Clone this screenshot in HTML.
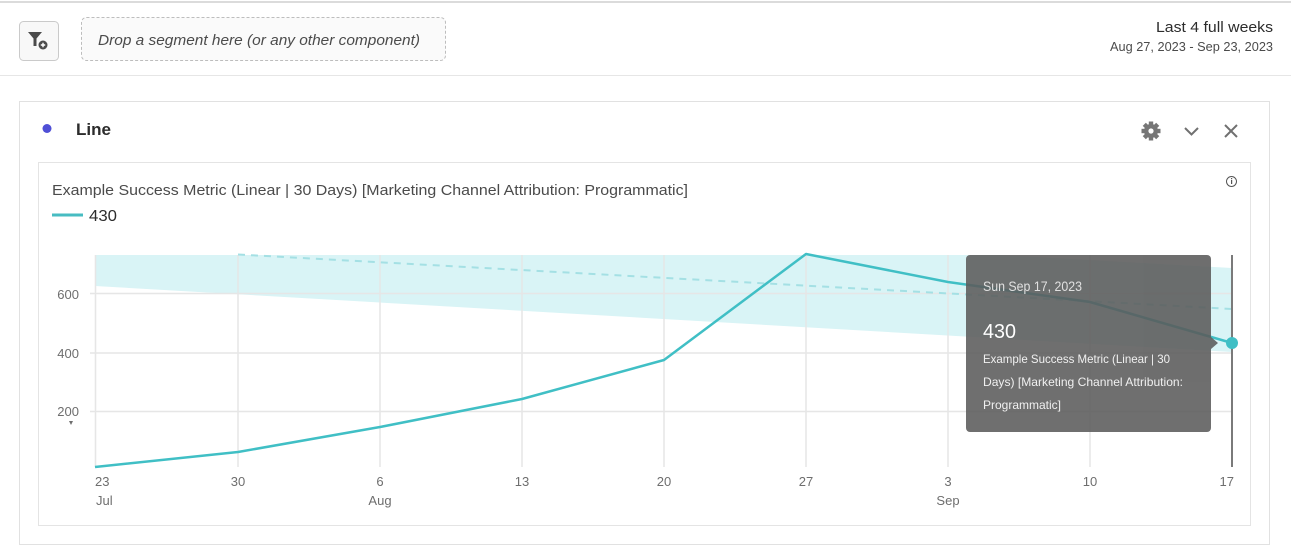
<!DOCTYPE html>
<html><head><meta charset="utf-8"><style>
html,body{margin:0;padding:0;background:#fff;}
svg{display:block;}
text{font-family:"Liberation Sans",sans-serif;}
</style></head><body>
<svg width="1291" height="547" viewBox="0 0 1291 547" xmlns="http://www.w3.org/2000/svg">
<rect width="1291" height="547" fill="#fff"/>
<line x1="0" y1="2" x2="1291" y2="2" stroke="#cfcfcf" stroke-width="1.5"/>
<line x1="0" y1="75.5" x2="1291" y2="75.5" stroke="#e6e6e6" stroke-width="1"/>

<!-- filter button -->
<rect x="19.5" y="21.5" width="39" height="39" rx="4" fill="#f8f8f8" stroke="#cacaca"/>
<path d="M28 32 L42 32 L36.5 38.5 L36.5 46 L33.5 46 L33.5 38.5 Z" fill="#4b4b4b"/>
<circle cx="43" cy="45" r="4.5" fill="#4b4b4b"/>
<path d="M40.8 45 H45.2 M43 42.8 V47.2" stroke="#fff" stroke-width="1.4"/>

<!-- drop zone -->
<rect x="81.5" y="17.5" width="364" height="43" rx="5" fill="#fafafa" stroke="#bdbdbd" stroke-dasharray="3,2"/>
<text x="98" y="45" font-size="15" font-style="italic" fill="#4b4b4b" textLength="322" lengthAdjust="spacingAndGlyphs">Drop a segment here (or any other component)</text>

<!-- date range -->
<text x="1273" y="32" font-size="15" fill="#2c2c2c" text-anchor="end" textLength="117" lengthAdjust="spacingAndGlyphs">Last 4 full weeks</text>
<text x="1273" y="51" font-size="13" fill="#4b4b4b" text-anchor="end" textLength="163" lengthAdjust="spacingAndGlyphs">Aug 27, 2023 - Sep 23, 2023</text>

<!-- outer panel -->
<rect x="19.5" y="101.5" width="1250" height="443" fill="#fff" stroke="#e1e1e1"/>
<circle cx="47" cy="128.5" r="4.5" fill="#4f4fd6"/>
<text x="76" y="135" font-size="17" font-weight="bold" fill="#2c2c2c" textLength="35" lengthAdjust="spacingAndGlyphs">Line</text>

<!-- gear -->
<g transform="translate(1151,131)" fill="#767676">
<circle r="7"/>
<g>
<rect x="-2.2" y="-9.5" width="4.4" height="19"/>
<rect x="-2.2" y="-9.5" width="4.4" height="19" transform="rotate(45)"/>
<rect x="-2.2" y="-9.5" width="4.4" height="19" transform="rotate(90)"/>
<rect x="-2.2" y="-9.5" width="4.4" height="19" transform="rotate(135)"/>
</g>
<circle r="2.6" fill="#fff"/>
</g>
<!-- chevron -->
<path d="M1185 128 L1191.5 134.5 L1198 128" fill="none" stroke="#707070" stroke-width="2"/>
<!-- close -->
<path d="M1225 125 L1237 137 M1237 125 L1225 137" stroke="#707070" stroke-width="2"/>

<!-- inner chart box -->
<rect x="38.5" y="162.5" width="1212" height="363" fill="#fff" stroke="#e4e4e4"/>
<text x="52" y="195" font-size="15" fill="#4b4b4b" textLength="636" lengthAdjust="spacingAndGlyphs">Example Success Metric (Linear | 30 Days) [Marketing Channel Attribution: Programmatic]</text>
<line x1="52" y1="215" x2="83" y2="215" stroke="#47bcc2" stroke-width="3"/>
<text x="89" y="221" font-size="16" fill="#2c2c2c" textLength="28" lengthAdjust="spacingAndGlyphs">430</text>
<!-- info icon -->
<circle cx="1231.5" cy="181.5" r="5" fill="none" stroke="#555" stroke-width="1"/>
<rect x="1231" y="180" width="1.2" height="4" fill="#555"/>
<rect x="1231" y="178" width="1.2" height="1.2" fill="#555"/>

<!-- band -->
<polygon points="95,255 1000,255 1232,268 1232,352 95,286" fill="#d9f4f6"/>

<!-- grid -->
<g stroke="#e6e6e6" stroke-width="1.5">
<line x1="90" y1="293.5" x2="1232" y2="293.5"/>
<line x1="90" y1="353" x2="1232" y2="353"/>
<line x1="90" y1="411.5" x2="1232" y2="411.5"/>
<line x1="95.5" y1="255" x2="95.5" y2="467"/>
<line x1="238" y1="255" x2="238" y2="467"/>
<line x1="380" y1="255" x2="380" y2="467"/>
<line x1="522" y1="255" x2="522" y2="467"/>
<line x1="664" y1="255" x2="664" y2="467"/>
<line x1="806" y1="255" x2="806" y2="467"/>
<line x1="948" y1="255" x2="948" y2="467"/>
<line x1="1090" y1="255" x2="1090" y2="467"/>
</g>

<!-- dashed forecast -->
<polyline points="238,254.5 1232,309" fill="none" stroke="#a4e0e4" stroke-width="2" stroke-dasharray="7,6"/>

<!-- series -->
<polyline points="95,467 238,452 380,427 522,399 664,360 806,254 948,282 1090,302 1232,343" fill="none" stroke="#40bfc5" stroke-width="2.5" stroke-linejoin="round"/>

<!-- y labels -->
<g font-size="13" fill="#6e6e6e" text-anchor="end">
<text x="79" y="299">600</text>
<text x="79" y="358">400</text>
<text x="79" y="416">200</text>
</g>
<path d="M69 421 L73 421 L71 425 Z" fill="#6e6e6e"/>

<!-- x labels -->
<g font-size="13" fill="#6e6e6e" text-anchor="middle">
<text x="95" y="486" text-anchor="start">23</text>
<text x="96" y="505" text-anchor="start">Jul</text>
<text x="238" y="486">30</text>
<text x="380" y="486">6</text>
<text x="380" y="505">Aug</text>
<text x="522" y="486">13</text>
<text x="664" y="486">20</text>
<text x="806" y="486">27</text>
<text x="948" y="486">3</text>
<text x="948" y="505">Sep</text>
<text x="1090" y="486">10</text>
<text x="1234" y="486" text-anchor="end">17</text>
</g>

<!-- cursor -->
<line x1="1232" y1="255" x2="1232" y2="467" stroke="#7a7a7a" stroke-width="2"/>

<!-- tooltip -->
<g opacity="0.88">
<rect x="966" y="255" width="245" height="177" rx="4" fill="#5b5b5b"/>
<path d="M1211 337 L1218 343 L1211 349 Z" fill="#5b5b5b"/>
</g>
<text x="983" y="291" font-size="14" fill="#e0e0e0" textLength="99" lengthAdjust="spacingAndGlyphs">Sun Sep 17, 2023</text>
<text x="983" y="338" font-size="20" fill="#fff" textLength="33" lengthAdjust="spacingAndGlyphs">430</text>
<g font-size="12" fill="#f0f0f0">
<text x="983" y="363" textLength="187" lengthAdjust="spacingAndGlyphs">Example Success Metric (Linear | 30</text>
<text x="983" y="386" textLength="200" lengthAdjust="spacingAndGlyphs">Days) [Marketing Channel Attribution:</text>
<text x="983" y="409" textLength="78" lengthAdjust="spacingAndGlyphs">Programmatic]</text>
</g>

<circle cx="1232" cy="343" r="6" fill="#40bfc5"/>
</svg>
</body></html>
